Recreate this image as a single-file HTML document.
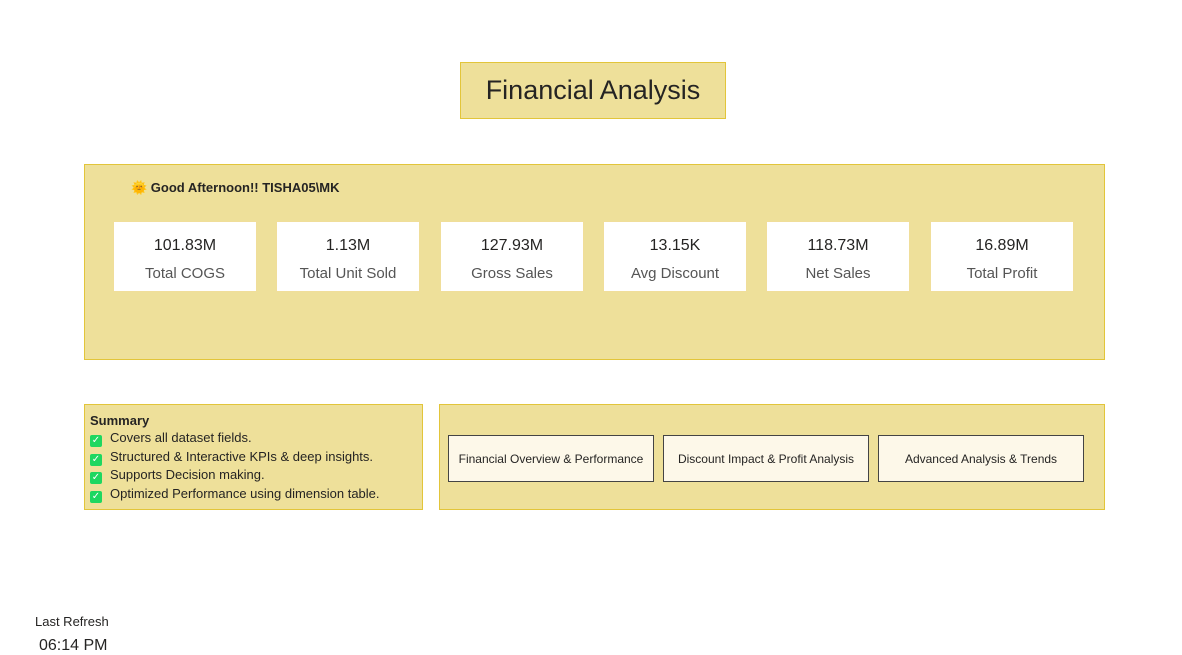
<!DOCTYPE html>
<html><head><meta charset="utf-8"><style>
body{margin:0;width:1182px;height:655px;background:#fff;font-family:"Liberation Sans","DejaVu Sans",sans-serif;position:relative;overflow:hidden;color:#252423}
.a{position:absolute;box-sizing:border-box}
.panel{background:#EEE09A;border:1px solid #E2C53A}
.card{background:#fff;border:1px solid #F0DE9A;text-align:center}
.v{font-size:16px;margin-top:15px;color:#252423}
.l{font-size:15px;margin-top:10px;color:#555}
.btn{background:#FDF8E9;border:1px solid #444;font-size:12px;display:flex;align-items:center;justify-content:center;color:#252423}
.chk{display:inline-block;width:12px;height:12px;background:#1ED760;border-radius:2px;color:#fff;font-size:10px;line-height:12px;text-align:center;margin-right:8px;vertical-align:-1px}
.sl{font-size:13px;line-height:18.5px}
</style></head><body>
<div class="a panel" style="left:460px;top:62px;width:266px;height:57px;font-size:27px;display:flex;align-items:center;justify-content:center">Financial Analysis</div>
<div class="a panel" style="left:84px;top:164px;width:1021px;height:196px">
<div class="a" style="left:46px;top:15px;font-size:13px;font-weight:bold">🌞 Good Afternoon!! TISHA05\MK</div>
</div>
<div class="a card" style="left:113px;top:221px;width:144px;height:71px"><div class="v">101.83M</div><div class="l">Total COGS</div></div>
<div class="a card" style="left:276px;top:221px;width:144px;height:71px"><div class="v">1.13M</div><div class="l">Total Unit Sold</div></div>
<div class="a card" style="left:440px;top:221px;width:144px;height:71px"><div class="v">127.93M</div><div class="l">Gross Sales</div></div>
<div class="a card" style="left:603px;top:221px;width:144px;height:71px"><div class="v">13.15K</div><div class="l">Avg Discount</div></div>
<div class="a card" style="left:766px;top:221px;width:144px;height:71px"><div class="v">118.73M</div><div class="l">Net Sales</div></div>
<div class="a card" style="left:930px;top:221px;width:144px;height:71px"><div class="v">16.89M</div><div class="l">Total Profit</div></div>
<div class="a panel" style="left:84px;top:404px;width:339px;height:106px;padding:7px 0 0 5px">
<div style="font-size:13px;font-weight:bold;line-height:17px">Summary</div>
<div class="sl"><span class="chk">✓</span>Covers all dataset fields.</div>
<div class="sl"><span class="chk">✓</span>Structured &amp; Interactive KPIs &amp; deep insights.</div>
<div class="sl"><span class="chk">✓</span>Supports Decision making.</div>
<div class="sl"><span class="chk">✓</span>Optimized Performance using dimension table.</div>
</div>
<div class="a panel" style="left:439px;top:404px;width:666px;height:106px"></div>
<div class="a btn" style="left:448px;top:435px;width:206px;height:47px">Financial Overview &amp; Performance</div>
<div class="a btn" style="left:663px;top:435px;width:206px;height:47px">Discount Impact &amp; Profit Analysis</div>
<div class="a btn" style="left:878px;top:435px;width:206px;height:47px">Advanced Analysis &amp; Trends</div>
<div class="a" style="left:35px;top:614px;font-size:13px">Last Refresh</div>
<div class="a" style="left:39px;top:637px;font-size:16px">06:14 PM</div>
</body></html>
